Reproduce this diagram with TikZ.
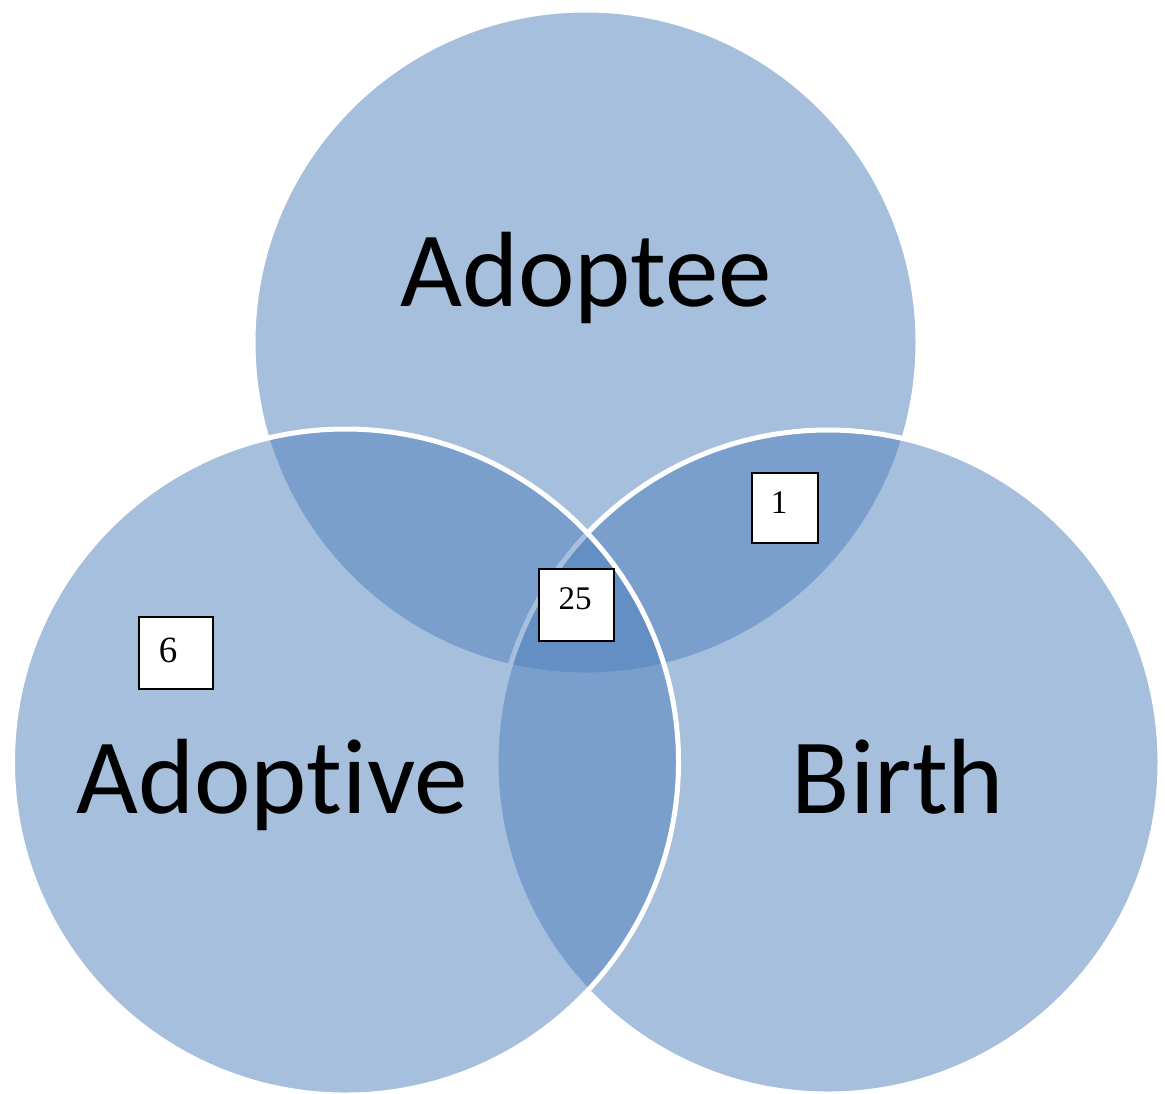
\documentclass[tikz,border=0pt]{standalone}
\usepackage{fontspec}
\setmainfont{Liberation Serif}
\newfontfamily\setfont[Ligatures={NoCommon,NoRare,NoDiscretionary}]{Carlito}
\usetikzlibrary{calc}

\definecolor{setblue}{RGB}{79,129,189}

\tikzset{
  setcircle/.style={fill=setblue, fill opacity=0.5, draw=white, line width=2.5pt},
  setname/.style={font=\setfont\fontsize{53.5}{53.5}\selectfont, text=black, anchor=base, inner sep=0pt},
  numbox/.style={draw=black, fill=white, line width=1pt, inner sep=0pt, anchor=north west},
  numtext/.style={font=\fontsize{16.5}{16.5}\selectfont, inner sep=0pt, anchor=base}
}

\begin{document}
\begin{tikzpicture}[x=0.5pt, y=-0.5pt]
  % page frame
  \fill[white] (0,0) rectangle (1165,1093);
  \useasboundingbox (0,0) rectangle (1165,1093);

  % the three sets, drawn top, right, left
  \path[setcircle] (585.5,342.5) circle[radius=332.5];
  \path[setcircle] (828,762) circle[radius=332];
  \path[setcircle] (345.5,762) circle[radius=333];

  % set names
  \node[setname] (adoptee)  at (586,306) {Adoptee};
  \node[setname] (adoptive) at (272,813) {Adoptive};
  \node[setname] (birth)    at (898,813) {Birth};

  % counts
  \node[numbox, minimum width=37pt, minimum height=36pt] (box6)  at (138,616) {};
  \node[numtext, font=\fontsize{18.5}{18.5}\selectfont] (n6)  at (168,662) {6};
  \node[numbox, minimum width=37.5pt, minimum height=36pt] (box25) at (538,568) {};
  \node[numtext] (n25) at (575,609) {25};
  \node[numbox, minimum width=33pt, minimum height=35pt] (box1)  at (751,472) {};
  \node[numtext] (n1)  at (779,513) {1};
\end{tikzpicture}
\end{document}
